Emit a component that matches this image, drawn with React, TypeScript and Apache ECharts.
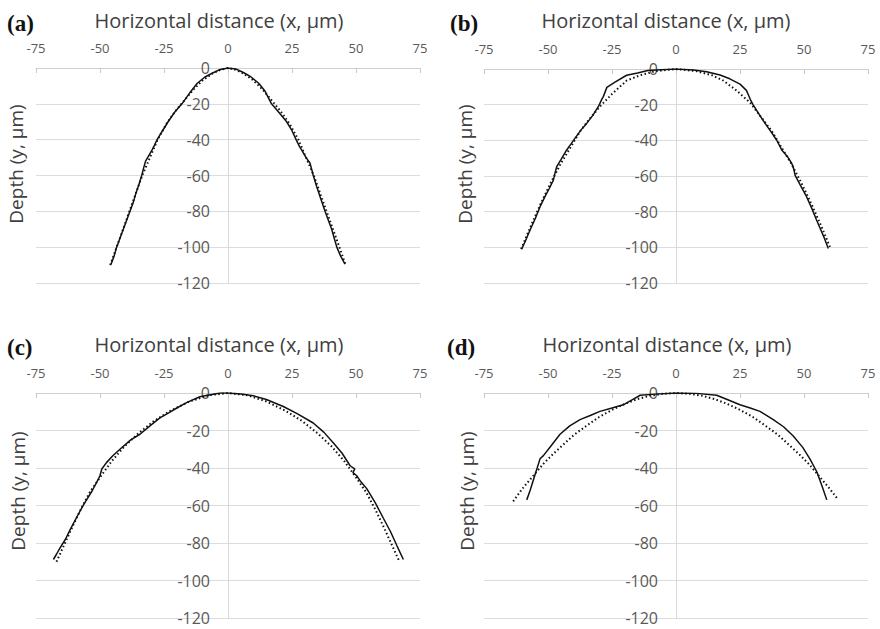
import React, { useEffect, useRef } from "react";
import * as echarts from "echarts";

const panelLetters = ["(a)", "(b)", "(c)", "(d)"];
const xTitle = "Horizontal distance (x, μm)";
const yTitle = "Depth (y, μm)";
const xMin = -75, xMax = 75, xStep = 25;
const yMin = -120, yMax = 0, yStep = 20;

const aMeasured: number[][] = [
  [-45.7, -109.5], [-44.5, -105], [-43.5, -100], [-42.2, -95], [-40.9, -90], [-39.6, -85], [-38.3, -80],
  [-37, -75], [-36, -70], [-34.8, -65], [-33.7, -60], [-33, -56], [-32.2, -52], [-31, -49], [-29.7, -45.8],
  [-28.7, -43], [-27.7, -40], [-26, -36], [-23.4, -30], [-21, -25], [-18, -20], [-15, -14], [-12, -8.5],
  [-9, -5], [-6, -2.8], [-3, -0.8], [0, 0], [3, -0.5], [6, -2.5], [9, -5], [12, -8.5], [14.5, -13],
  [17, -20], [20, -25], [22.9, -30], [25, -35], [26.6, -40], [28, -44], [28.8, -45.8], [30.5, -50],
  [32, -53], [32.6, -56], [33.3, -60], [34.6, -66], [36, -72], [37.9, -80], [39.2, -85], [40.5, -90],
  [41.5, -95], [42.5, -100], [44, -105], [45.7, -109.5],
];
const aFitted: number[][] = [
  [-46, -110], [-43.5, -100], [-41, -90], [-38.5, -80], [-36, -70], [-33.5, -60], [-30.5, -50],
  [-27.5, -40], [-24, -31], [-20.5, -24], [-17, -18], [-13.5, -12], [-10, -7], [-6, -3], [-3, -1], [0, 0],
  [3, -1], [6, -3], [10, -7], [13.5, -12], [17, -18], [20.5, -24], [24, -31], [27.5, -40], [30.5, -50],
  [33.5, -60], [36, -70], [38.5, -80], [41, -90], [43.5, -100], [46, -110],
];

const bMeasured: number[][] = [
  [-60.3, -101], [-59, -97], [-57, -90.3], [-55, -84], [-53.1, -77.2], [-51, -71], [-49.5, -67],
  [-47.9, -62.3], [-47.2, -58], [-46.6, -54.8], [-45, -51], [-42.7, -45.4], [-41, -42], [-39.5, -38.9],
  [-37, -34], [-34.9, -30.5], [-32.5, -26], [-30.3, -21], [-29, -17], [-28.4, -15.5], [-27, -10.3],
  [-24, -7.5], [-19.3, -3.5], [-15, -2.2], [-11, -0.8], [-6, -0.4], [0, 0], [6.8, -0.5], [12, -1.5],
  [17.2, -3.4], [21, -5.5], [25, -8.5], [27.5, -12], [28.3, -14.6], [29, -17], [30.2, -20.2],
  [32.5, -25.5], [34.8, -30.5], [37, -35], [39.3, -39.8], [41.3, -45.4], [43.5, -49], [45.2, -52.9],
  [46, -56], [46.5, -59.5], [48.5, -65], [51, -71.6], [53, -78], [54.9, -84.7], [56.5, -90], [58, -95],
  [59.5, -100.6],
];
const bFitted: number[][] = [
  [-60.5, -101], [-57, -89], [-53, -76], [-49, -64], [-45, -53], [-41, -43.5], [-37.5, -35],
  [-33.5, -27.5], [-29.7, -21], [-25, -14], [-19.3, -6.5], [-14, -3.5], [-8, -1.2], [0, 0], [8, -1.2],
  [14, -3.5], [18.5, -6.5], [24, -12.5], [29, -19], [33, -26.5], [37.5, -35], [41, -43.5], [45, -53],
  [49, -64], [53, -76], [57, -89], [60.5, -101],
];

const cMeasured: number[][] = [
  [-68.2, -88.8], [-67, -86], [-65.6, -82.6], [-63.5, -78], [-61.7, -73], [-59, -66], [-56.5, -59.8],
  [-53, -52], [-50.5, -45.5], [-50, -44], [-49.3, -40.5], [-47.4, -37], [-45, -33.5], [-42.2, -30],
  [-38, -25], [-34.4, -22], [-30, -17], [-26.6, -13.3], [-23, -10.5], [-20, -8], [-16, -5], [-11, -2],
  [-8, -1.2], [-3, 0], [0, 0], [5, -0.5], [9.9, -1.5], [15, -3.5], [21.6, -7.2], [27, -11], [33.3, -16],
  [37.5, -21], [41.1, -26.5], [44.5, -32], [47.7, -38.8], [49.5, -40.5], [48.8, -42.5], [50.2, -44],
  [52, -47.5], [54.2, -51], [57.5, -58.5], [60.7, -66.8], [63.5, -74], [66, -81.5], [68.5, -88.8],
];
const cFitted: number[][] = [
  [-67, -90], [-64, -81], [-61, -72], [-57.5, -62], [-54, -53], [-50, -45], [-45.5, -36.5],
  [-40.5, -28.5], [-35, -21.5], [-29, -15], [-22.5, -9.5], [-15, -4.5], [-7.5, -1.2], [0, 0],
  [7.5, -1.2], [15, -4.5], [22.5, -9.5], [29, -15], [35, -21.5], [40.5, -28.5], [45.5, -36.5],
  [50, -45], [54, -53], [57.5, -62], [61, -72], [64, -81], [67, -90],
];

const dMeasured: number[][] = [
  [-58.3, -57], [-57, -52], [-55.5, -45.5], [-54, -39], [-53.1, -35.1], [-51.8, -33.4], [-49, -28.5],
  [-45.3, -22], [-41.5, -17.5], [-37.5, -14.2], [-33.5, -12], [-29.7, -9.8], [-25, -8], [-20.6, -6.3],
  [-17, -3.5], [-14, -1.2], [-8, -0.6], [0, 0], [8, -0.2], [15.9, -1.2], [20, -3.5], [25, -6.3],
  [29, -8], [32.8, -9.8], [38, -14.2], [42, -18], [45.8, -22.9], [49.5, -29], [52.3, -35.1], [55, -42],
  [57, -49.5], [58.9, -57],
];
const dFitted: number[][] = [
  [-63.6, -57.8], [-60, -51], [-56, -44.5], [-52, -38], [-48, -32.5], [-44, -27.5], [-40, -22.5],
  [-35, -17.5], [-30, -12.8], [-25, -9], [-20, -5.8], [-15, -3.2], [-10, -1.4], [-5, -0.4], [0, 0],
  [5, -0.4], [10, -1.4], [15, -3.2], [20, -5.8], [25, -9], [30, -12.8], [35, -17.5], [40, -22.5],
  [44, -27.5], [48, -32.5], [52, -38], [56, -44.5], [60, -51], [63.4, -57],
];

const measuredSets = [aMeasured, bMeasured, cMeasured, dMeasured];
const fittedSets = [aFitted, bFitted, cFitted, dFitted];

const FONT = "'Open Sans', 'Noto Sans', sans-serif";

export default function App() {
  const ref = useRef<HTMLDivElement>(null);
  useEffect(() => {
    if (!ref.current) return;
    const chart = echarts.init(ref.current, undefined, { renderer: "svg" });
    const grids = [
      { left: 36, top: 68, width: 384, height: 215 },
      { left: 484, top: 69, width: 384, height: 214 },
      { left: 36, top: 393, width: 384, height: 225 },
      { left: 484, top: 393, width: 384, height: 225 },
    ];
    const titlePos = [[219, 20], [666, 20], [219, 344], [667, 344]];
    const letterPos = [[7, 23], [450, 23], [7, 347], [447, 347]];
    const yTitlePos = [[16, 164], [465, 164], [18, 491], [467, 491]];

    const xAxis = grids.map((_, i) => ({
      type: "value",
      gridIndex: i,
      position: "top",
      min: xMin,
      max: xMax,
      interval: xStep,
      axisLine: { show: true, onZero: false, lineStyle: { color: "#d0d0d0", width: 1 } },
      axisTick: { show: true, inside: true, length: 5, lineStyle: { color: "#c8c8c8" } },
      axisLabel: { fontSize: 13, color: "#595959", margin: 14, fontFamily: FONT },
      splitLine: { show: false },
    }));
    const yAxis = grids.map((g, i) => ({
      type: "value",
      gridIndex: i,
      position: "left",
      offset: -g.width / 2,
      min: yMin,
      max: yMax,
      interval: yStep,
      axisLine: { show: true, onZero: false, lineStyle: { color: "#d9d9d9", width: 1 } },
      axisTick: { show: false },
      axisLabel: { fontSize: 16, lineHeight: 14, color: "#595959", margin: 18, fontFamily: FONT },
      splitLine: { show: true, lineStyle: { color: "#dcdcdc", width: 1 } },
    }));
    const series: any[] = [];
    grids.forEach((_, i) => {
      series.push({
        type: "line",
        xAxisIndex: i,
        yAxisIndex: i,
        data: fittedSets[i],
        showSymbol: false,
        symbol: "none",
        lineStyle: { color: "#111", width: 2, type: [1.5, 2.5] },
        z: 3,
      });
      series.push({
        type: "line",
        xAxisIndex: i,
        yAxisIndex: i,
        data: measuredSets[i],
        showSymbol: false,
        symbol: "none",
        lineStyle: { color: "#111", width: 1.5 },
        z: 4,
      });
    });
    const graphic: any[] = [];
    grids.forEach((_, i) => {
      graphic.push({
        type: "text",
        x: titlePos[i][0],
        y: titlePos[i][1],
        style: { text: xTitle, fontSize: 20, fill: "#404040", fontFamily: FONT, align: "center", verticalAlign: "middle" },
      });
      graphic.push({
        type: "text",
        x: letterPos[i][0],
        y: letterPos[i][1],
        style: { text: panelLetters[i], fontSize: 23, fontWeight: "bold", fill: "#111", fontFamily: "'Liberation Serif', 'DejaVu Serif', serif", align: "left", verticalAlign: "middle" },
      });
      graphic.push({
        type: "text",
        x: yTitlePos[i][0],
        y: yTitlePos[i][1],
        rotation: Math.PI / 2,
        style: { text: yTitle, fontSize: 19, fill: "#404040", fontFamily: FONT, align: "center", verticalAlign: "middle" },
      });
    });
    chart.setOption({
      animation: false,
      backgroundColor: "#ffffff",
      textStyle: { fontFamily: FONT },
      grid: grids,
      xAxis,
      yAxis,
      series,
      graphic,
    });
    return () => chart.dispose();
  }, []);
  return <div ref={ref} style={{ position: "fixed", left: 0, top: 0, width: 880, height: 629 }} />;
}
